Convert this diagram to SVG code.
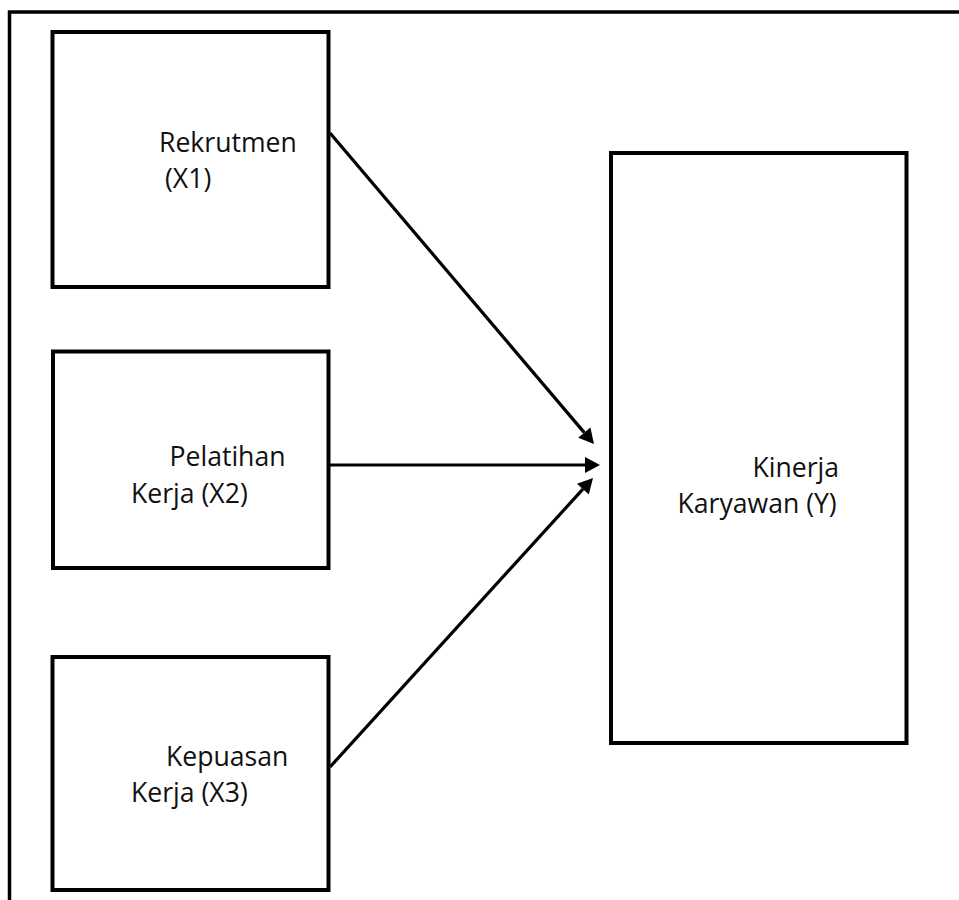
<svg xmlns="http://www.w3.org/2000/svg" width="959" height="900" viewBox="0 0 959 900">
<style>
.box{fill:#fff;stroke:#000;stroke-width:4}
.lbl{font-family:"Open Sans","Noto Sans",sans-serif;font-size:26.6px;fill:#111}
.conn{stroke:#000;stroke-width:3.2;fill:none}
</style>
<defs>
<marker id="ah" markerUnits="userSpaceOnUse" viewBox="0 -8 15 16" markerWidth="15" markerHeight="16" refX="0" refY="0" orient="auto" overflow="visible">
<path d="M0,-8 L15,0 L0,8 z" fill="#000"/>
</marker>
</defs>
<rect width="959" height="900" fill="#fff"/>
<polyline points="9.5,900 9.5,12 959,12" fill="none" stroke="#000" stroke-width="3.5"/>
<g id="x1">
<rect class="box" x="52.5" y="32" width="276" height="255"/>
<text class="lbl" x="159" y="152">Rekrutmen</text>
<text class="lbl" x="165" y="187.5">(X1)</text>
</g>
<g id="x2">
<rect class="box" x="53" y="351.5" width="275.5" height="216.5"/>
<text class="lbl" x="169.5" y="466">Pelatihan</text>
<text class="lbl" x="131" y="503">Kerja (X2)</text>
</g>
<g id="x3">
<rect class="box" x="52.5" y="657" width="276" height="233"/>
<text class="lbl" x="166" y="766">Kepuasan</text>
<text class="lbl" x="131" y="802">Kerja (X3)</text>
</g>
<g id="y">
<rect class="box" x="611" y="153" width="295.5" height="590"/>
<text class="lbl" x="752.5" y="476.5">Kinerja</text>
<text class="lbl" x="677.5" y="513">Karyawan (Y)</text>
</g>
<g id="connectors">
<line class="conn" x1="330" y1="133" x2="584.3" y2="432.6" marker-end="url(#ah)"/>
<line class="conn" x1="330" y1="465" x2="585" y2="465" marker-end="url(#ah)"/>
<line class="conn" x1="330" y1="767" x2="582.9" y2="489.1" marker-end="url(#ah)"/>
</g>
</svg>
